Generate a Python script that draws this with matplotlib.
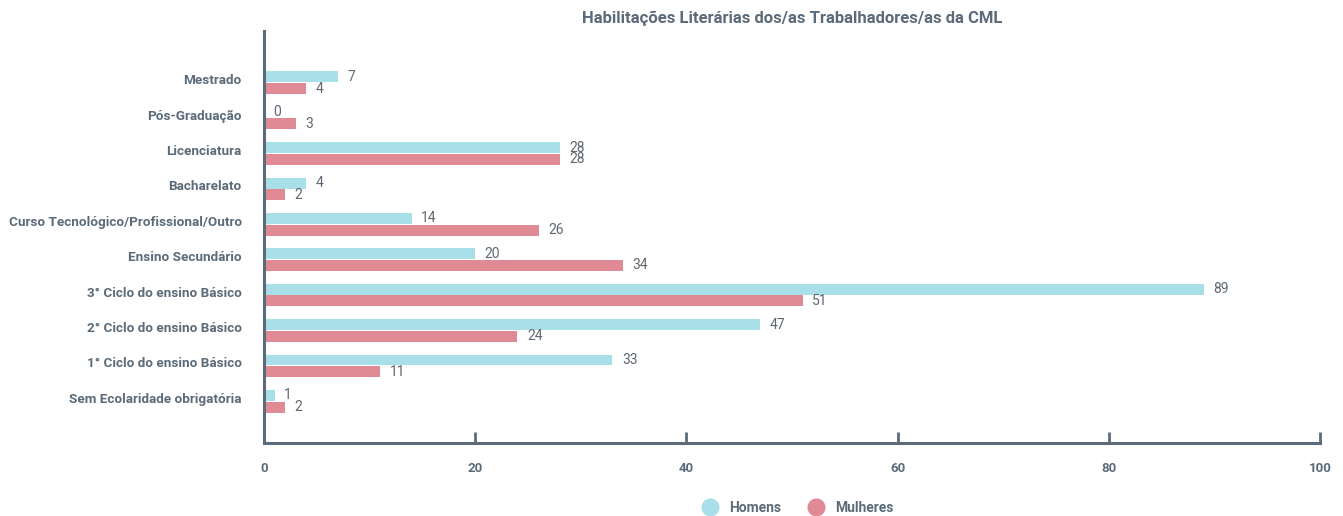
import matplotlib
matplotlib.use("Agg")
import matplotlib.pyplot as plt
from matplotlib.lines import Line2D
import numpy as np

categories = [
    "Mestrado",
    "Pós-Graduação",
    "Licenciatura",
    "Bacharelato",
    "Curso Tecnológico/Profissional/Outro",
    "Ensino Secundário",
    "3° Ciclo do ensino Básico",
    "2° Ciclo do ensino Básico",
    "1° Ciclo do ensino Básico",
    "Sem Ecolaridade obrigatória",
]
homens = [7, 0, 28, 4, 14, 20, 89, 47, 33, 1]
mulheres = [4, 3, 28, 2, 26, 34, 51, 24, 11, 2]
xticks = [0, 20, 40, 60, 80, 100]

c_h = "#a8dfe9"
c_m = "#e08a95"
axis_c = "#5b6b79"
text_c = "#5b6b79"

plt.rcParams["font.family"] = ["Roboto", "DejaVu Sans"]

fig = plt.figure(figsize=(13.43, 5.16), dpi=100)
ax = fig.add_axes([264 / 1343, 1 - 443 / 516, (1320 - 264) / 1343, (443 - 31) / 516])

n = len(categories)
y = np.arange(n)[::-1]
h = 0.31
off = 0.165

ax.barh(y + off, homens, height=h, color=c_h)
ax.barh(y - off, mulheres, height=h, color=c_m)

for yi, v in zip(y, homens):
    ax.text(v + 0.9, yi + off, str(v), va="center", ha="left", fontsize=10, color="#5f6770")
for yi, v in zip(y, mulheres):
    ax.text(v + 0.9, yi - off, str(v), va="center", ha="left", fontsize=10, color="#5f6770")

ax.set_xlim(0, 100)
ax.set_ylim(-1.18, n - 1 + 1.46)
ax.set_yticks(y + 0.1)
ax.set_yticklabels(categories, fontsize=9.7, fontweight="bold", color=text_c)
ax.tick_params(axis="y", length=0, pad=16)

ax.set_xticks(xticks)
ax.set_xticklabels([str(t) for t in xticks], fontsize=9.5, fontweight="bold", color=text_c)
ax.tick_params(axis="x", direction="in", length=8, width=2, color=axis_c, pad=14)

for s in ["top", "right"]:
    ax.spines[s].set_visible(False)
for s in ["left", "bottom"]:
    ax.spines[s].set_color(axis_c)
    ax.spines[s].set_linewidth(2.2)

ax.set_title("Habilitações Literárias dos/as Trabalhadores/as da CML", fontsize=12,
             fontweight="bold", color=text_c, pad=6)

handles = [
    Line2D([], [], marker="o", linestyle="", markersize=12, markerfacecolor=c_h, markeredgecolor=c_h),
    Line2D([], [], marker="o", linestyle="", markersize=12, markerfacecolor=c_m, markeredgecolor=c_m),
]
leg = fig.legend(handles, ["Homens", "Mulheres"], loc="center", bbox_to_anchor=(795 / 1343, 1 - 508 / 516),
                 ncol=2, frameon=False, handletextpad=0.4, columnspacing=1.5,
                 prop={"size": 10, "weight": "bold"})
for t in leg.get_texts():
    t.set_color(text_c)

fig.savefig("out.png", dpi=100)
